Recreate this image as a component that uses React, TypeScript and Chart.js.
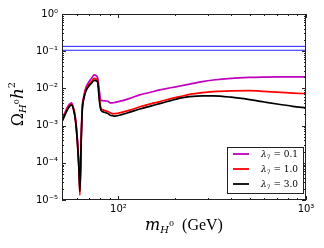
import { useEffect, useRef } from "react";
import { Chart, registerables } from "chart.js";

Chart.register(...registerables);

// ---- data ----
const masses = [50, 52, 54, 56.2, 58, 59, 60.3, 61.6, 62.3, 63.3, 64.1, 65.5, 66.8, 69, 72, 74.2, 76, 77.5, 79, 80.5, 82, 85, 88, 90.3, 93, 96, 105, 115, 130, 150, 166, 190, 213, 240, 280, 320, 400, 500, 600, 700, 850, 1000];
const omegaLam01 = [1.35e-3, 2.3e-3, 3.4e-3, 4.1e-3, 2.6e-3, 1.6e-3, 5e-4, 8e-5, 2e-5, 5e-4, 3e-3, 6.5e-3, 1e-2, 0.014, 0.019, 0.023, 0.022, 0.019, 0.009, 4.9e-3, 4.7e-3, 4.6e-3, 4.5e-3, 4.1e-3, 4.1e-3, 4.2e-3, 4.7e-3, 5.4e-3, 6.7e-3, 8e-3, 9.1e-3, 0.0104, 0.0116, 0.013, 0.0152, 0.0168, 0.0187, 0.0197, 0.0201, 0.0203, 0.0203, 0.0203];
const omegaLam10 = [1.3e-3, 2.1e-3, 3.1e-3, 3.7e-3, 2.4e-3, 1.4e-3, 4.2e-4, 6.5e-5, 1.35e-5, 4.2e-4, 2.6e-3, 5.8e-3, 8.6e-3, 0.012, 0.0155, 0.0185, 0.018, 0.016, 0.006, 3e-3, 2.7e-3, 2.5e-3, 2.4e-3, 2.2e-3, 2.1e-3, 2.1e-3, 2.3e-3, 2.6e-3, 3.2e-3, 3.9e-3, 4.4e-3, 5.3e-3, 6e-3, 6.9e-3, 7.7e-3, 8.2e-3, 8.6e-3, 8.7e-3, 8.3e-3, 7.9e-3, 7.5e-3, 7.2e-3];
const omegaLam30 = [1.27e-3, 2e-3, 2.9e-3, 3.6e-3, 2.3e-3, 1.35e-3, 4e-4, 6e-5, 1.7e-5, 4e-4, 2.5e-3, 5.5e-3, 8e-3, 0.011, 0.014, 0.0165, 0.016, 0.0145, 0.005, 2.7e-3, 2.4e-3, 2.25e-3, 2.1e-3, 1.9e-3, 1.85e-3, 1.8e-3, 2e-3, 2.3e-3, 2.8e-3, 3.4e-3, 3.9e-3, 4.7e-3, 5.5e-3, 6e-3, 6.3e-3, 6.3e-3, 5.8e-3, 5e-3, 4.3e-3, 3.8e-3, 3.3e-3, 3e-3];
const planckBand = [0.106, 0.135];
const xRange = [50, 1000];
const yRange = [1e-5, 1];
const lambdaLabels = ["0.1", "1.0", "3.0"];
const xTickValues = [100, 1000];
const xTickLabels = ["10²", "10³"];
const yTickValues = [1e-5, 1e-4, 1e-3, 1e-2, 1e-1, 1];
const yTickLabels = ["10⁻⁵", "10⁻⁴", "10⁻³", "10⁻²", "10⁻¹", "10⁰"];

const seriesColors = ["#bf00bf", "#ff0000", "#000000"];

const MATH = '"DejaVu Serif"';
const ROMAN = '"Liberation Serif"';

function drawPieces(ctx: CanvasRenderingContext2D, pieces: { t: string; f: string; dy: number }[], x0: number, y0: number, align: "center" | "left") {
  let total = 0;
  const widths = pieces.map((p) => {
    ctx.font = p.f;
    const w = ctx.measureText(p.t).width;
    total += w;
    return w;
  });
  let x = align === "center" ? x0 - total / 2 : x0;
  ctx.textBaseline = "alphabetic";
  ctx.textAlign = "left";
  pieces.forEach((p, i) => {
    ctx.font = p.f;
    ctx.fillText(p.t, x, y0 + p.dy);
    x += widths[i];
  });
}

const decorPlugin = {
  id: "decor",
  afterDatasetsDraw(chart: any) {
    const ctx: CanvasRenderingContext2D = chart.ctx;
    const { left, right, top, bottom } = chart.chartArea;
    const xs = chart.scales.x;
    const ys = chart.scales.y;
    ctx.save();
    ctx.strokeStyle = "#222";
    ctx.lineWidth = 1;
    ctx.strokeRect(left + 0.5, top + 0.5, right - left - 1, bottom - top - 1);
    // inward ticks
    ctx.beginPath();
    const xTicks: [number, number][] = [];
    for (let d = 1; d <= 2; d++) {
      for (let k = 1; k <= 9; k++) {
        const v = k * Math.pow(10, d);
        if (v >= xRange[0] && v <= xRange[1]) xTicks.push([v, k === 1 ? 4 : 2]);
      }
    }
    xTicks.push([1000, 4]);
    xTicks.forEach(([v, len]) => {
      const px = Math.round(xs.getPixelForValue(v)) + 0.5;
      ctx.moveTo(px, bottom);
      ctx.lineTo(px, bottom - len);
      ctx.moveTo(px, top);
      ctx.lineTo(px, top + len);
    });
    for (let d = -5; d <= 0; d++) {
      for (let k = 1; k <= 9; k++) {
        const v = k * Math.pow(10, d);
        if (v > yRange[1] * 1.0001) continue;
        const len = k === 1 ? 4 : 2;
        const py = Math.round(ys.getPixelForValue(v)) + 0.5;
        ctx.moveTo(left, py);
        ctx.lineTo(left + len, py);
        ctx.moveTo(right, py);
        ctx.lineTo(right - len, py);
      }
    }
    ctx.stroke();
    ctx.restore();
  },
  afterDraw(chart: any) {
    const ctx: CanvasRenderingContext2D = chart.ctx;
    const { left, right } = chart.chartArea;
    ctx.save();
    ctx.fillStyle = "#000";
    // x title
    drawPieces(
      ctx,
      [
        { t: "m", f: `italic 16px ${MATH}`, dy: 0 },
        { t: "H", f: `italic 10px ${MATH}`, dy: 3 },
        { t: "0", f: `8px ${MATH}`, dy: -4 },
        { t: "  (GeV)", f: `16px ${ROMAN}`, dy: 0 },
      ],
      (left + right) / 2,
      230,
      "center"
    );
    // y title (rotated)
    ctx.save();
    ctx.translate(23, 104);
    ctx.rotate(-Math.PI / 2);
    drawPieces(
      ctx,
      [
        { t: "Ω", f: `16px ${MATH}`, dy: 0 },
        { t: "H", f: `italic 10px ${MATH}`, dy: 3 },
        { t: "0", f: `8px ${MATH}`, dy: -4 },
        { t: "h", f: `italic 17px ${MATH}`, dy: 0 },
        { t: "2", f: `10px ${MATH}`, dy: -8 },
      ],
      0,
      0,
      "center"
    );
    ctx.restore();
    // legend
    const bx = 227, by = 147, bw = 77, bh = 47;
    ctx.fillStyle = "#fff";
    ctx.fillRect(bx, by, bw, bh);
    ctx.strokeStyle = "#222";
    ctx.lineWidth = 1;
    ctx.strokeRect(bx + 0.5, by + 0.5, bw - 1, bh - 1);
    lambdaLabels.forEach((lab, i) => {
      const y = 154 + i * 15;
      ctx.strokeStyle = seriesColors[i];
      ctx.lineWidth = 1.8;
      ctx.beginPath();
      ctx.moveTo(233, y);
      ctx.lineTo(249, y);
      ctx.stroke();
      ctx.fillStyle = "#000";
      drawPieces(
        ctx,
        [
          { t: "λ", f: `italic 9px ${MATH}`, dy: 0 },
          { t: "7", f: `6px ${MATH}`, dy: 2 },
          { t: " = " + lab, f: `9px ${MATH}`, dy: 0 },
        ],
        261,
        y + 3,
        "left"
      );
    });
    ctx.restore();
  },
};

export default function App() {
  const ref = useRef<HTMLCanvasElement>(null);
  useEffect(() => {
    if (!ref.current) return;
    const mk = (vals: number[]) => masses.map((m, i) => ({ x: m, y: vals[i] }));
    const band = (v: number) => xRange.map((m) => ({ x: m, y: v }));
    const common = { pointRadius: 0, borderWidth: 1.7, cubicInterpolationMode: "monotone" as const, fill: false };
    const chart = new Chart(ref.current, {
      type: "line",
      data: {
        datasets: [
          { ...common, data: mk(omegaLam01), borderColor: seriesColors[0], order: 3 },
          { ...common, data: mk(omegaLam10), borderColor: seriesColors[1], order: 2 },
          { ...common, data: mk(omegaLam30), borderColor: seriesColors[2], order: 1 },
          { data: band(planckBand[0]), borderColor: "#2020ff", borderWidth: 1, pointRadius: 0, order: 4 },
          { data: band(planckBand[1]), borderColor: "#2020ff", borderWidth: 1, pointRadius: 0, order: 4 },
        ],
      },
      options: {
        responsive: false,
        animation: false,
        devicePixelRatio: 1,
        layout: { padding: { top: 14, right: 18, left: 0, bottom: 0 } },
        plugins: { legend: { display: false }, tooltip: { enabled: false } },
        scales: {
          x: {
            type: "logarithmic",
            min: xRange[0],
            max: xRange[1],
            grid: { display: false, drawTicks: false },
            border: { display: false },
            afterBuildTicks: (s: any) => {
              s.ticks = xTickValues.map((v) => ({ value: v }));
            },
            afterFit: (s: any) => {
              s.height = 48;
            },
            ticks: {
              autoSkip: false,
              maxRotation: 0,
              padding: 3,
              color: "#000",
              font: { family: "DejaVu Sans", size: 10 },
              callback: (v: any) => {
                const i = xTickValues.indexOf(Number(v));
                return i >= 0 ? xTickLabels[i] : "";
              },
            },
          },
          y: {
            type: "logarithmic",
            min: yRange[0],
            max: yRange[1],
            grid: { display: false, drawTicks: false },
            border: { display: false },
            afterBuildTicks: (s: any) => {
              s.ticks = yTickValues.map((v) => ({ value: v }));
            },
            afterFit: (s: any) => {
              s.width = 62;
            },
            ticks: {
              autoSkip: false,
              padding: 4,
              color: "#000",
              font: { family: "DejaVu Sans", size: 10 },
              callback: (v: any) => {
                const e = Math.round(Math.log10(Number(v)));
                const i = yTickValues.findIndex((t) => Math.round(Math.log10(t)) === e);
                return i >= 0 ? yTickLabels[i] : "";
              },
            },
          },
        },
      },
      plugins: [decorPlugin],
    });
    return () => chart.destroy();
  }, []);
  return (
    <div style={{ position: "absolute", left: 0, top: 0, width: 324, height: 248, background: "#fff" }}>
      <canvas ref={ref} width={324} height={248} style={{ display: "block", width: 324, height: 248 }} />
    </div>
  );
}
